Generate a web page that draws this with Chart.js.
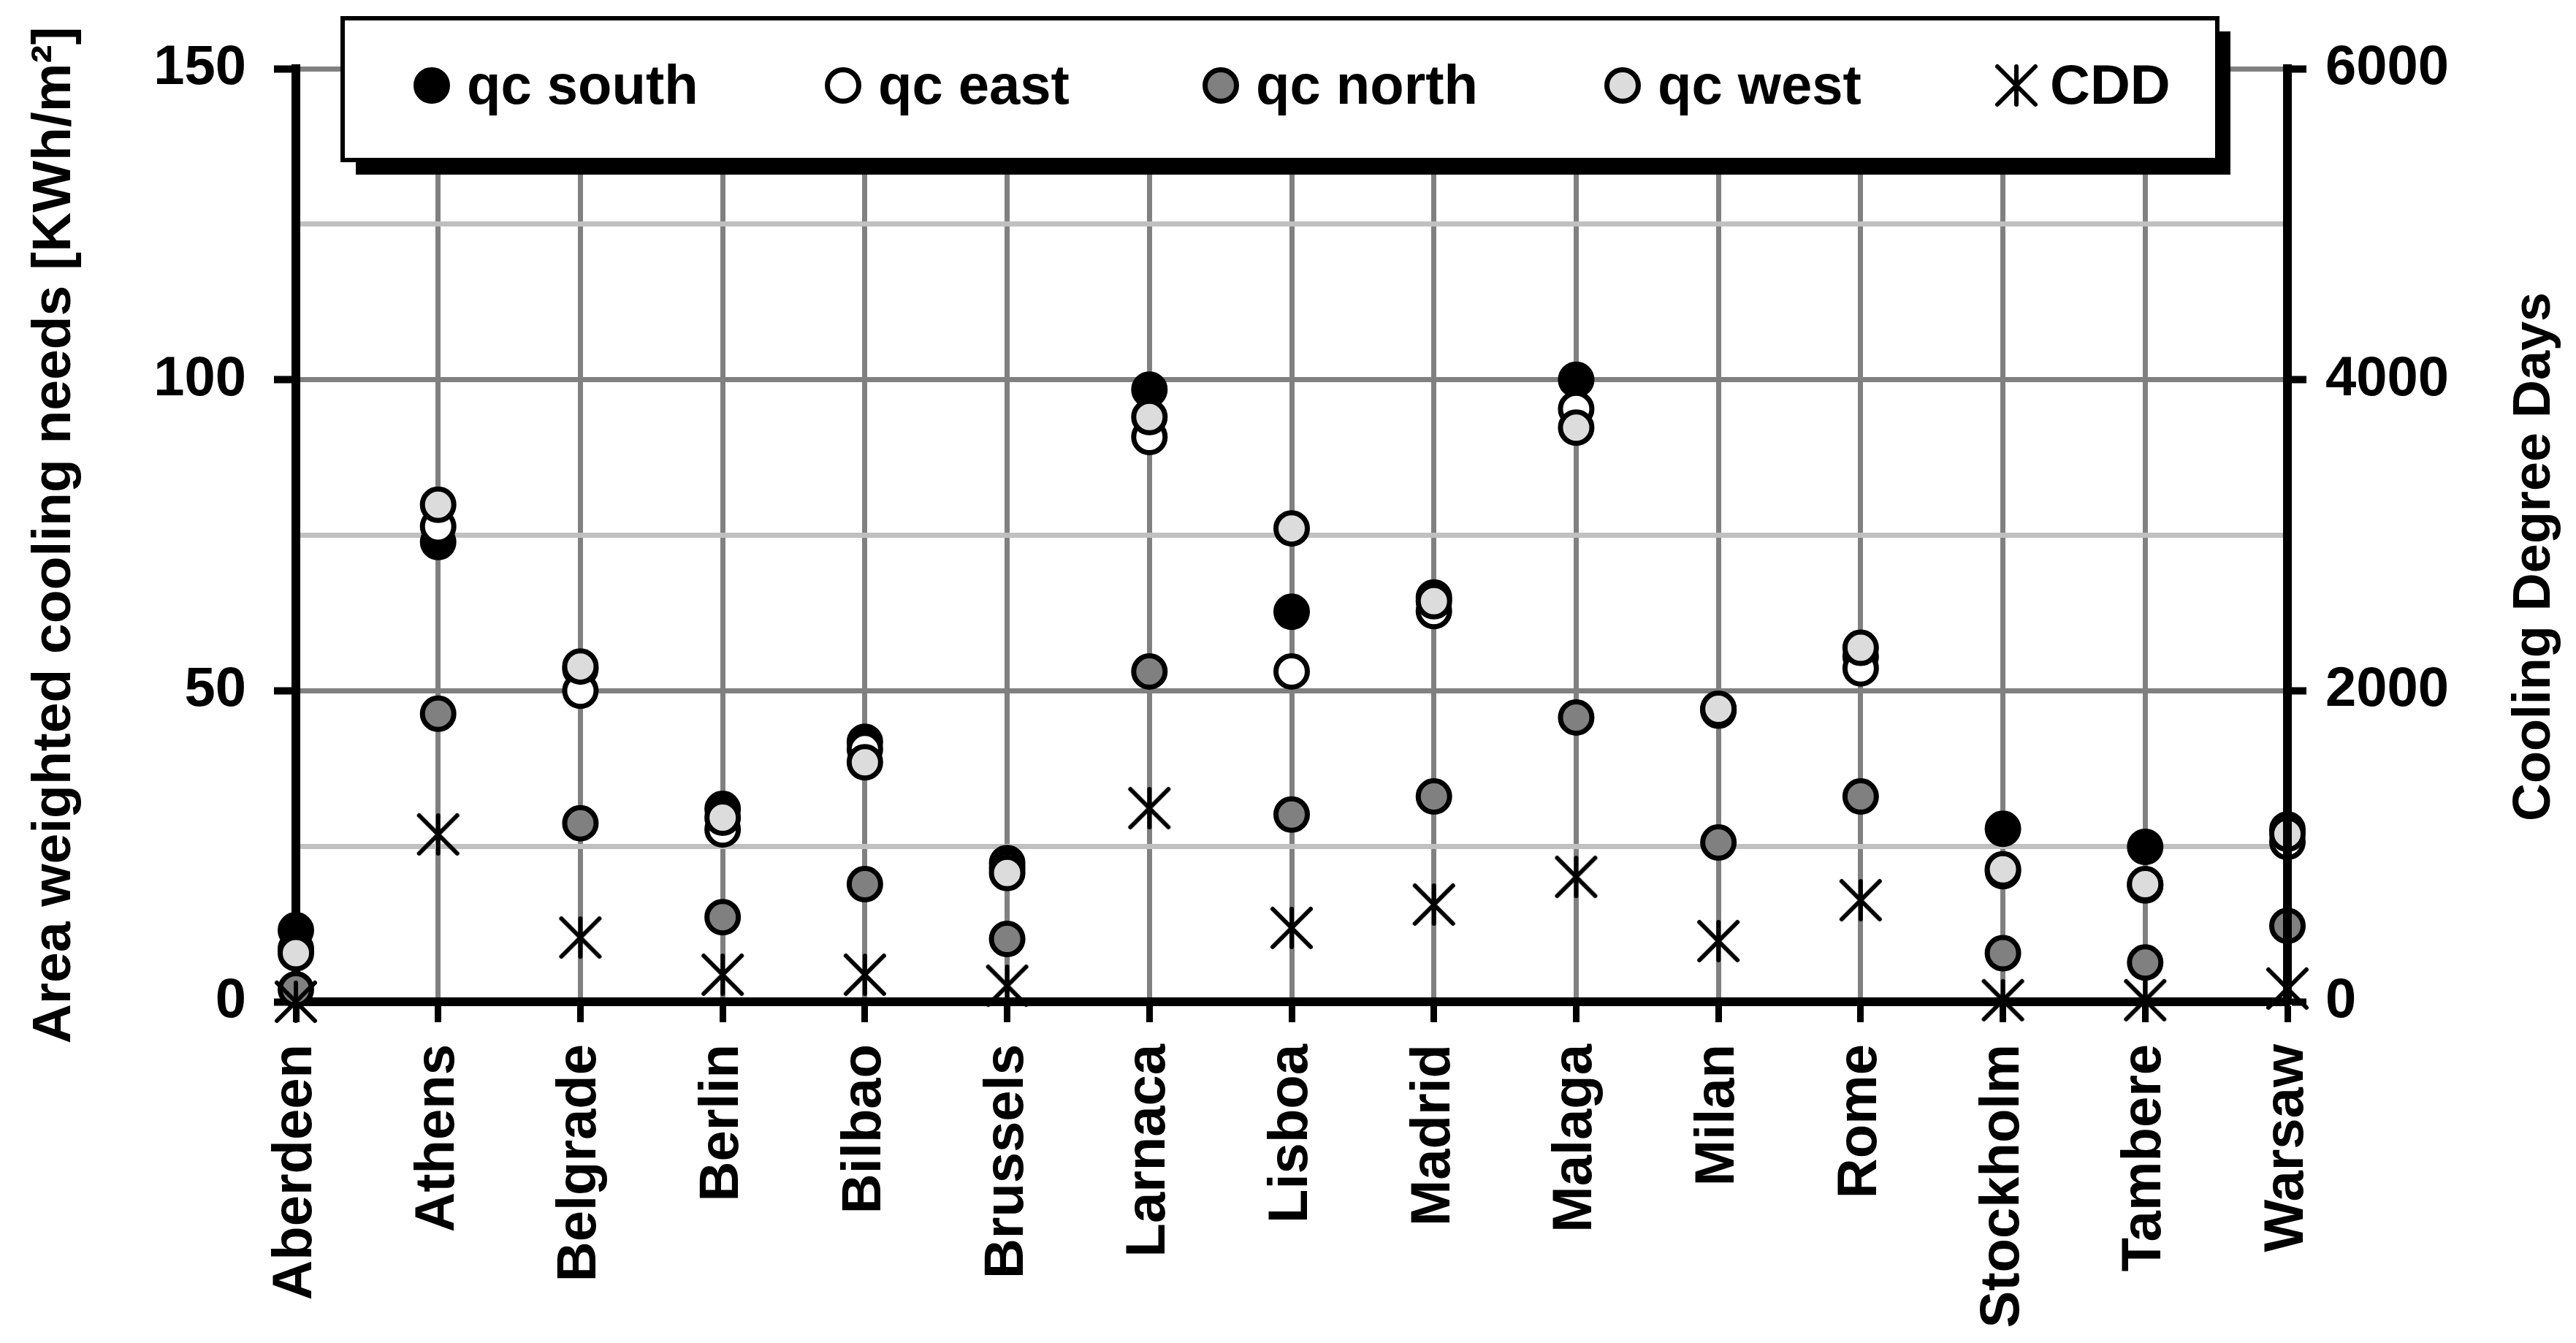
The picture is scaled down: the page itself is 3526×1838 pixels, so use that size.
<!DOCTYPE html>
<html><head><meta charset="utf-8">
<script src="https://cdn.jsdelivr.net/npm/chart.js@4.4.1/dist/chart.umd.min.js"></script>
<style>html,body{margin:0;padding:0;background:#fff;}#wrap{width:3526px;height:1838px;}</style>
</head><body><div id="wrap"><canvas id="c" width="3526" height="1838"></canvas></div>
<script>
const cities = ['Aberdeen','Athens','Belgrade','Berlin','Bilbao','Brussels','Larnaca','Lisboa','Madrid','Malaga','Milan','Rome','Stockholm','Tambere','Warsaw'];
const qcSouth = [11.5, 73.9, 53.5, 31.0, 41.8, 22.3, 98.4, 62.7, 65.0, 100.0, 47.0, 55.5, 27.8, 24.9, 27.7];
const qcEast  = [8.5, 76.4, 50.0, 27.7, 40.6, 21.5, 90.8, 53.1, 62.8, 95.3, 46.8, 53.6, 21.0, 18.7, 25.7];
const qcNorth = [2.0, 46.3, 28.7, 13.6, 18.9, 10.1, 53.1, 30.1, 33.0, 45.7, 25.6, 33.0, 7.8, 6.3, 12.2];
const qcWest  = [7.8, 79.9, 53.9, 29.6, 38.5, 20.7, 94.0, 76.1, 64.4, 92.3, 47.1, 56.9, 21.3, 18.9, 27.0];
const cdd     = [0, 1076, 413, 174, 174, 103, 1245, 475, 625, 803, 390, 653, 10, 10, 85];
const leftTicks = [0, 50, 100, 150];
const rightTicks = [0, 2000, 4000, 6000];
const seriesNames = ['qc south', 'qc east', 'qc north', 'qc west', 'CDD'];
const seriesFills = ['#000000', '#ffffff', '#808080', '#dcdcdc'];
const leftTitle = 'Area weighted cooling needs [KWh/m\u00B2]';
const rightTitle = 'Cooling Degree Days';

const FONT = "'Liberation Sans', Arial, Helvetica, sans-serif";
Chart.defaults.font.family = FONT;
Chart.defaults.font.weight = 'bold';
Chart.defaults.color = '#000';

function makeStar(size, lw) {
  const c = document.createElement('canvas');
  c.width = c.height = size;
  const g = c.getContext('2d');
  const h = size / 2, a = h - lw;
  g.strokeStyle = '#000'; g.lineWidth = lw; g.lineCap = 'round';
  g.beginPath();
  g.moveTo(h - a, h - a); g.lineTo(h + a, h + a);
  g.moveTo(h - a, h + a); g.lineTo(h + a, h - a);
  g.moveTo(h, h - a); g.lineTo(h, h + a);
  g.stroke();
  return c;
}
const star = makeStar(64, 6);

function circleSet(label, data, fill, order) {
  return { label, data, showLine: false, pointRadius: 21.5, pointHoverRadius: 21.5,
    pointBackgroundColor: fill, pointBorderColor: '#000', pointBorderWidth: 7,
    backgroundColor: fill, borderColor: '#000', yAxisID: 'y', order, clip: false };
}

const legendPlugin = {
  id: 'customLegend',
  afterDraw(chart) {
    const ctx = chart.ctx;
    ctx.save();
    ctx.translate(3470, 762);
    ctx.rotate(-Math.PI / 2);
    ctx.font = 'bold 72px ' + FONT;
    ctx.fillStyle = '#000';
    ctx.textAlign = 'center';
    ctx.textBaseline = 'middle';
    ctx.fillText(rightTitle, 0, 0);
    ctx.restore();

    ctx.save();
    const bx = 469, by = 25, bw = 2566, bh = 194;
    ctx.fillStyle = '#000';
    ctx.fillRect(bx + 18, by + 18, bw, bh + 2);
    ctx.fillStyle = '#fff';
    ctx.fillRect(bx, by, bw, bh);
    ctx.lineWidth = 6;
    ctx.strokeStyle = '#000';
    ctx.strokeRect(bx, by, bw, bh);
    const mx = [591, 1154, 1671, 2221, 2760];
    const my = 117;
    ctx.font = 'bold 76px ' + FONT;
    ctx.textBaseline = 'alphabetic';
    ctx.textAlign = 'left';
    for (let i = 0; i < 5; i++) {
      if (i < 4) {
        ctx.beginPath();
        ctx.arc(mx[i], my, 21.5, 0, Math.PI * 2);
        ctx.fillStyle = seriesFills[i];
        ctx.fill();
        ctx.lineWidth = 7;
        ctx.strokeStyle = '#000';
        ctx.stroke();
      } else {
        ctx.drawImage(star, mx[i] - 32, my - 32);
      }
      ctx.fillStyle = '#000';
      ctx.fillText(seriesNames[i], mx[i] + (i < 4 ? 48 : 46), 142);
    }
    ctx.restore();
  }
};

new Chart(document.getElementById('c'), {
  type: 'line',
  data: {
    labels: cities,
    datasets: [
      circleSet(seriesNames[0], qcSouth, seriesFills[0], 5),
      circleSet(seriesNames[1], qcEast, seriesFills[1], 4),
      circleSet(seriesNames[2], qcNorth, seriesFills[2], 3),
      circleSet(seriesNames[3], qcWest, seriesFills[3], 2),
      { label: seriesNames[4], data: cdd, showLine: false, pointStyle: star, pointRadius: 28,
        yAxisID: 'y2', order: 1, clip: false, borderColor: '#000', backgroundColor: '#000' }
    ]
  },
  options: {
    responsive: false,
    devicePixelRatio: 1,
    animation: false,
    events: [],
    layout: { padding: { top: 94, left: 0, right: 0, bottom: 0 } },
    plugins: { legend: { display: false }, tooltip: { enabled: false } },
    scales: {
      x: {
        type: 'category',
        offset: false,
        grid: { color: '#808080', lineWidth: 7, tickColor: '#000', tickLength: 28, tickWidth: 9 },
        border: { display: true, color: '#000', width: 12 },
        ticks: { autoSkip: false, minRotation: 90, maxRotation: 90, padding: 30,
          font: { size: 76, weight: 'bold' }, color: '#000' },
        afterFit: s => { s.height = 467; }
      },
      y: {
        position: 'left',
        min: 0, max: 150,
        afterBuildTicks: s => { s.ticks = [0, 25, 50, 75, 100, 125, 150].map(v => ({ value: v })); },
        grid: {
          color: c => (c.tick && c.tick.value % 50 === 0) ? '#808080' : '#c0c0c0',
          lineWidth: 7,
          tickColor: c => (c.tick && c.tick.value % 50 === 0) ? '#000' : 'rgba(0,0,0,0)',
          tickLength: 30, tickWidth: 10
        },
        border: { display: true, color: '#000', width: 12 },
        ticks: { padding: 38, font: { size: 76, weight: 'bold' }, color: '#000',
          callback: v => leftTicks.includes(v) ? String(v) : '' },
        title: { display: true, text: leftTitle, padding: { top: 30, bottom: 0 },
          font: { size: 75, weight: 'bold' }, color: '#000' },
        afterFit: s => { s.width = 405; }
      },
      y2: {
        position: 'right',
        min: 0, max: 6000,
        afterBuildTicks: s => { s.ticks = rightTicks.map(v => ({ value: v })); },
        grid: { drawOnChartArea: false, tickColor: '#000', tickLength: 26, tickWidth: 10, lineWidth: 7 },
        border: { display: true, color: '#000', width: 12, z: 1 },
        ticks: { padding: 26, font: { size: 76, weight: 'bold' }, color: '#000',
          callback: v => String(v) },
        afterFit: s => { s.width = 395; }
      }
    }
  },
  plugins: [legendPlugin]
});
</script>
</body></html>
